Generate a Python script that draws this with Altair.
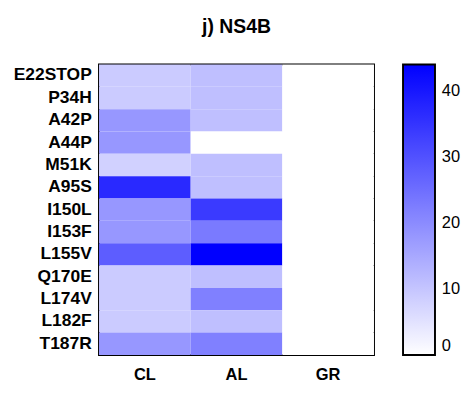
import altair as alt
import pandas as pd

mutations = ["E22STOP", "P34H", "A42P", "A44P", "M51K", "A95S", "I150L",
             "I153F", "L155V", "Q170E", "L174V", "L182F", "T187R"]
groups = ["CL", "AL", "GR"]
cl_values = [9, 9, 18, 18, 8, 37, 18, 18, 28, 9, 9, 9, 18]
al_values = [11, 11, 11, 0, 11, 11, 34, 23, 44, 11, 22, 11, 22]
gr_values = [0] * 13

rows = []
for g, vals in zip(groups, [cl_values, al_values, gr_values]):
    for m, v in zip(mutations, vals):
        rows.append({"mutation": m, "group": g, "value": v})
df = pd.DataFrame(rows)

font = "Liberation Sans"

chart = alt.Chart(df).mark_rect().encode(
    x=alt.X("group:N", sort=groups, title=None,
            axis=alt.Axis(labelAngle=0, labelFontSize=17, labelFontWeight="bold",
                          labelColor="black", ticks=False, domain=False,
                          labelPadding=12, labelFont=font)),
    y=alt.Y("mutation:N", sort=mutations, title=None,
            axis=alt.Axis(labelFontSize=18, labelFontWeight="bold", labelColor="black",
                          ticks=False, domain=False, labelPadding=8, labelFont=font)),
    color=alt.Color("value:Q",
                    scale=alt.Scale(domain=[0, 44], range=["#ffffff", "#0000ff"],
                                    interpolate="rgb"),
                    legend=alt.Legend(title=None, gradientLength=300, gradientThickness=33,
                                      gradientStrokeColor="black", gradientStrokeWidth=2,
                                      labelFontSize=17, labelColor="black", labelFont=font,
                                      values=[0, 10, 20, 30, 40], offset=30,
                                      labelOffset=7)),
).properties(
    width=284, height=300,
    title=alt.TitleParams("j) NS4B", fontSize=20, fontWeight="bold", font=font,
                          color="black", offset=29),
    padding={"left": 5, "top": 3, "right": 5, "bottom": 5},
).configure_view(stroke="black", strokeWidth=2)

chart.save("out.html", embed_options={"renderer": "svg", "actions": False})
